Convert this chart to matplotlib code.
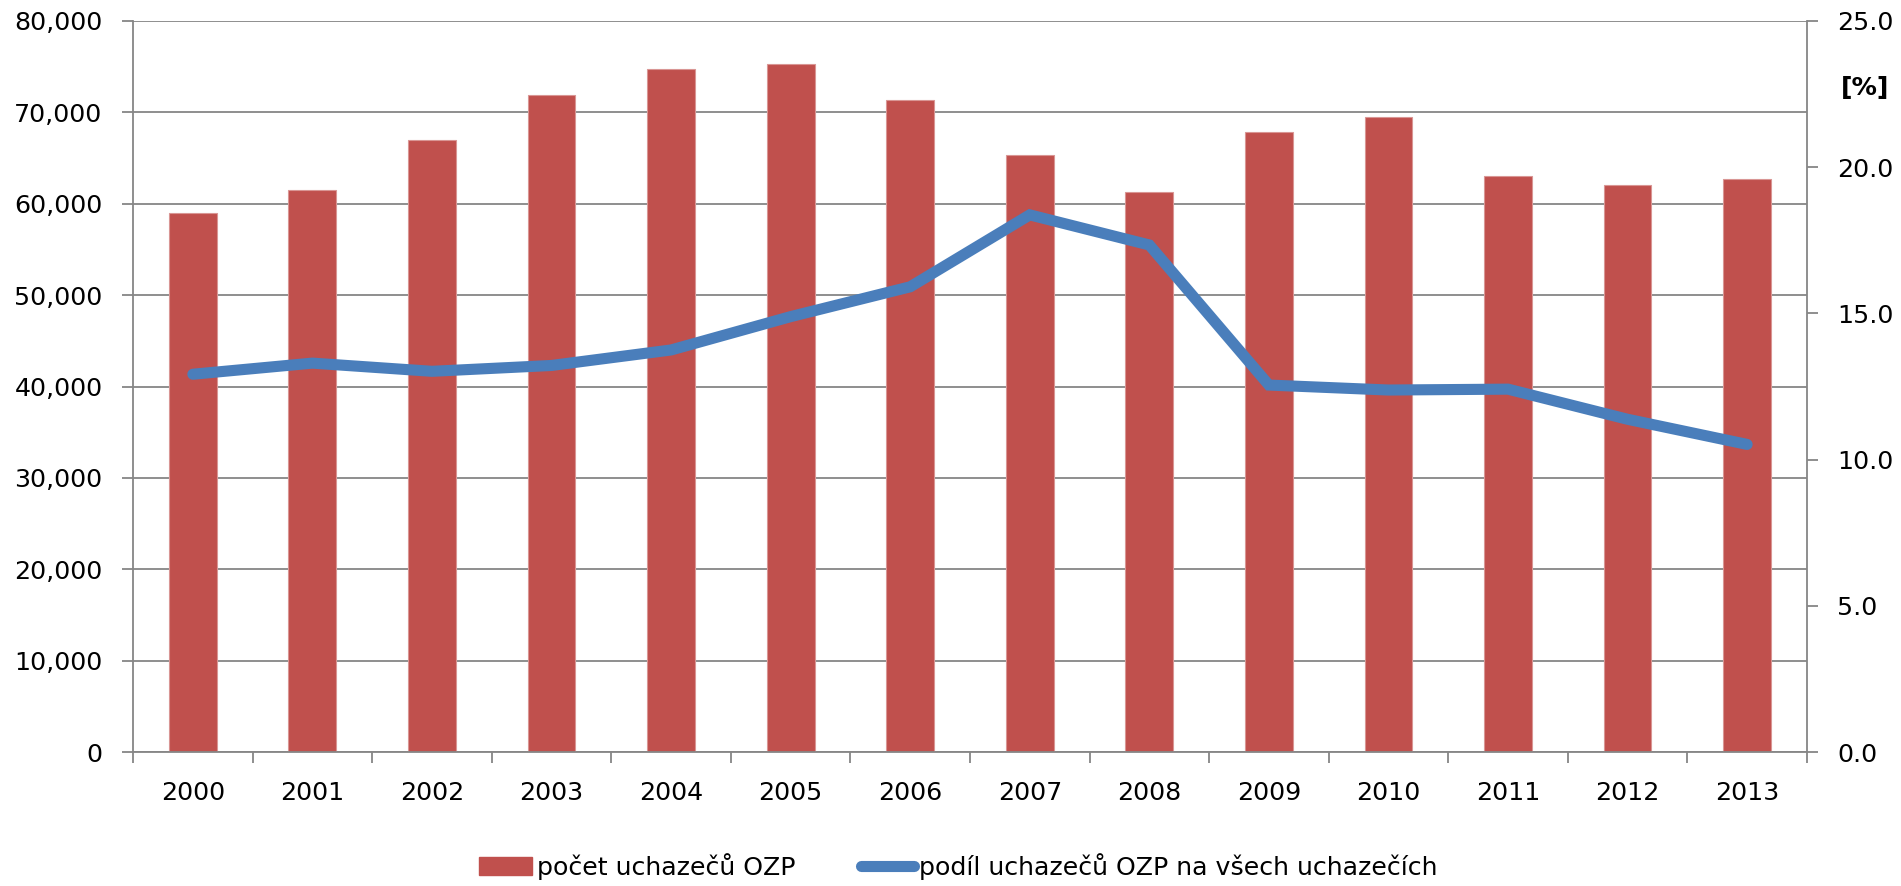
import numpy as np
import matplotlib.pyplot as plt
from matplotlib.patches import Patch
from matplotlib.lines import Line2D
from matplotlib.ticker import FuncFormatter, FixedLocator

years = ["2000", "2001", "2002", "2003", "2004", "2005", "2006",
         "2007", "2008", "2009", "2010", "2011", "2012", "2013"]
pocet = [59000, 61500, 67000, 71900, 74700, 75300, 71400,
         65300, 61300, 67800, 69500, 63000, 62000, 62700]
podil = [12.92, 13.3, 13.02, 13.22, 13.75, 14.89, 15.91,
         18.37, 17.34, 12.55, 12.38, 12.41, 11.38, 10.52]

bar_color = '#C0504D'
line_color = '#4A7EBB'
grid_color = '#868686'
fs = 18.2

plt.rcParams['font.family'] = ['DejaVu Sans']

fig = plt.figure(figsize=(19.01, 8.86), dpi=100)
ax = fig.add_axes([0.070, 0.1512, 0.8805, 0.8251])

index = np.arange(len(years))
ax.bar(index, pocet, 0.4, color=bar_color, edgecolor='#D99694', linewidth=0.8, zorder=2)

ax.set_xlim(-0.5, len(years) - 0.5)
ax.set_ylim(0, 80000)
ax.set_yticks(np.arange(0, 80001, 10000))
ax.yaxis.set_major_formatter(FuncFormatter(lambda v, p: '{:,.0f}'.format(v)))
ax.grid(axis='y', color=grid_color, linewidth=1.3, zorder=0)
ax.set_axisbelow(True)

# year labels centred, tick marks on category borders
ax.set_xticks(index)
ax.set_xticklabels(years)
ax.xaxis.set_minor_locator(FixedLocator(np.arange(-0.5, len(years), 1)))
ax.tick_params(axis='x', which='major', length=0, pad=21, labelsize=fs)
ax.tick_params(axis='x', which='minor', length=8, width=1.3, color=grid_color)
ax.tick_params(axis='y', length=8, width=1.3, color=grid_color, pad=14, labelsize=fs)

for s in ['left', 'bottom']:
    ax.spines[s].set_color(grid_color)
    ax.spines[s].set_linewidth(1.3)
ax.spines['top'].set_visible(False)
ax.spines['right'].set_visible(False)

ax2 = ax.twinx()
ax2.plot(index, podil, color=line_color, linewidth=8, solid_capstyle='round',
         solid_joinstyle='miter', zorder=3)
ax2.set_ylim(0, 25)
ax2.set_yticks(np.arange(0, 25.1, 5))
ax2.yaxis.set_major_formatter(FuncFormatter(lambda v, p: '%.1f' % v))
ax2.tick_params(axis='y', length=8, width=1.3, color=grid_color, pad=14, labelsize=fs)
for s in ['left', 'top', 'bottom']:
    ax2.spines[s].set_visible(False)
ax2.spines['right'].set_color(grid_color)
ax2.spines['right'].set_linewidth(1.3)

fig.text(0.9685, 0.9005, '[%]', fontsize=fs, fontweight='bold', ha='left', va='center')

handles = [Patch(facecolor=bar_color, edgecolor=bar_color),
           Line2D([0], [0], color=line_color, linewidth=8, solid_capstyle='round')]
labels = ['počet uchazečů OZP', 'podíl uchazečů OZP na všech uchazečích']
fig.legend(handles, labels, loc='center', bbox_to_anchor=(0.504, 0.022), ncol=2,
           frameon=False, fontsize=fs, handlelength=2.1, handleheight=0.7,
           handletextpad=0.2, columnspacing=2.6)

plt.savefig('out.png', dpi=100)
